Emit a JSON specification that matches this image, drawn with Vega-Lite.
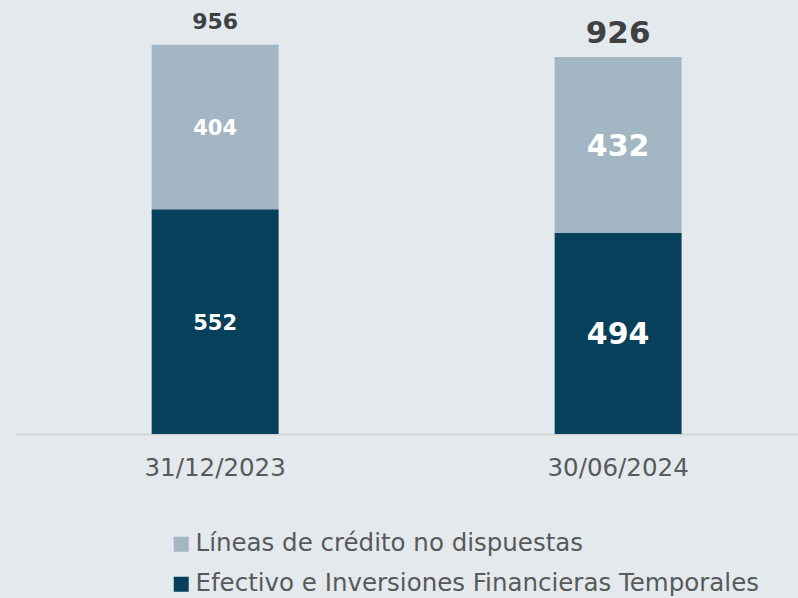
{
  "$schema": "https://vega.github.io/schema/vega-lite/v6.json",
  "width": 783,
  "height": 434,
  "padding": {"left": 15, "top": 0, "right": 0, "bottom": 164},
  "background": "#e4e9ee",
  "config": {"view": {"stroke": null}, "font": "DejaVu Sans"},
  "data": {
    "values": [
      {"fecha": "31/12/2023", "tipo": "Efectivo e Inversiones Financieras Temporales", "orden": 1, "valor": 552},
      {"fecha": "31/12/2023", "tipo": "Líneas de crédito no dispuestas", "orden": 2, "valor": 404},
      {"fecha": "30/06/2024", "tipo": "Efectivo e Inversiones Financieras Temporales", "orden": 1, "valor": 494},
      {"fecha": "30/06/2024", "tipo": "Líneas de crédito no dispuestas", "orden": 2, "valor": 432}
    ]
  },
  "encoding": {
    "x": {
      "field": "fecha", "type": "nominal", "sort": ["31/12/2023", "30/06/2024"],
      "scale": {"paddingInner": 0.685, "paddingOuter": 0.314, "align": 0.54},
      "axis": {"title": null, "labelAngle": 0, "ticks": false, "domainColor": "#d4d4d4", "domainWidth": 2,
               "labelFont": "DejaVu Sans", "labelFontSize": 24.5, "labelFontWeight": "normal", "labelColor": "#595959", "labelPadding": 22}
    }
  },
  "layer": [
    {
      "mark": {"type": "bar"},
      "encoding": {
        "y": {"field": "valor", "type": "quantitative", "stack": "zero", "scale": {"domain": [0, 1066], "nice": false}, "axis": null},
        "order": {"field": "orden", "type": "quantitative"},
        "color": {
          "field": "tipo", "type": "nominal",
          "scale": {"domain": ["Líneas de crédito no dispuestas", "Efectivo e Inversiones Financieras Temporales"], "range": ["#a3b6c4", "#07405a"]},
          "legend": {
            "title": null, "orient": "none", "legendX": 154, "legendY": 532, "direction": "vertical",
            "symbolType": "square", "symbolSize": 225, "symbolStrokeWidth": 0, "padding": 0,
            "labelFont": "DejaVu Sans", "labelFontSize": 24.5, "labelColor": "#595959", "labelOffset": 2, "rowPadding": 15, "labelLimit": 700
          }
        }
      }
    },
    {
      "mark": {"type": "text", "font": "DejaVu Sans", "fontWeight": "bold", "color": "white", "baseline": "middle", "dy": 2},
      "encoding": {
        "y": {"field": "valor", "type": "quantitative", "stack": "zero", "bandPosition": 0.5},
        "order": {"field": "orden", "type": "quantitative"},
        "text": {"field": "valor", "type": "quantitative"},
        "size": {"condition": {"test": "datum.fecha === '30/06/2024'", "value": 30}, "value": 21}
      }
    },
    {
      "transform": [{"aggregate": [{"op": "sum", "field": "valor", "as": "total"}], "groupby": ["fecha"]}],
      "mark": {"type": "text", "font": "DejaVu Sans", "fontWeight": "bold", "color": "#404040", "baseline": "middle", "dy": -23},
      "encoding": {
        "y": {"field": "total", "type": "quantitative"},
        "text": {"field": "total", "type": "quantitative"},
        "size": {"condition": {"test": "datum.fecha === '30/06/2024'", "value": 31}, "value": 22}
      }
    }
  ]
}
